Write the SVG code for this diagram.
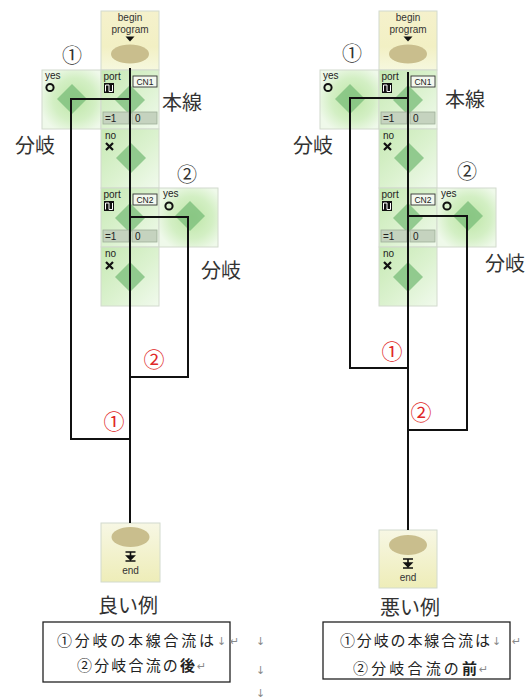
<svg xmlns="http://www.w3.org/2000/svg" width="528" height="699" viewBox="0 0 528 699">
<defs>
<linearGradient id="gCol" x1="0" y1="0" x2="1" y2="1">
<stop offset="0" stop-color="#c6e9b3"/>
<stop offset="0.55" stop-color="#dcf2d0"/>
<stop offset="1" stop-color="#f1faed"/>
</linearGradient>
<radialGradient id="gYes" cx="0.55" cy="0.5" r="0.6">
<stop offset="0" stop-color="#bde6a6"/>
<stop offset="0.6" stop-color="#d3efc4"/>
<stop offset="1" stop-color="#eff9ea"/>
</radialGradient>
<linearGradient id="gBegin" x1="0" y1="0" x2="0" y2="1">
<stop offset="0" stop-color="#f5f1cc"/>
<stop offset="0.6" stop-color="#f2f0c4"/>
<stop offset="1" stop-color="#f6f8de"/>
</linearGradient>
<linearGradient id="gEnd" x1="0" y1="0" x2="0" y2="1">
<stop offset="0" stop-color="#f7f7e4"/>
<stop offset="1" stop-color="#eeedb8"/>
</linearGradient>
<style>
.blk{stroke:#d2dacd;stroke-width:1}
.dia{fill:#78bc78;fill-opacity:.75}
.sm{font-family:"Liberation Sans",Arial,sans-serif;font-size:10px;fill:#222}
.bp{font-family:"Liberation Sans",Arial,sans-serif;font-size:10px;fill:#333}
.cn{font-family:"Liberation Sans",Arial,sans-serif;font-size:8.5px;fill:#222}
.lbl{font-family:"Noto Sans CJK JP",sans-serif;font-size:20px;fill:#333}
.num{font-family:"Noto Sans CJK JP",sans-serif;font-size:20px;fill:#333}
.red{font-family:"Noto Sans CJK JP",sans-serif;font-size:21px;fill:#e02828}
.box{font-family:"Noto Sans CJK JP",sans-serif;font-size:15px;fill:#222}
.mark{font-family:"DejaVu Sans",sans-serif;font-size:11px;fill:#8a8a8a}
.ln{fill:none;stroke:#111;stroke-width:2}
.valbox{fill:#c5d3bf;stroke:#9fae99;stroke-width:.8}
.cnbox{fill:#f3f8ef;stroke:#333;stroke-width:.9}
</style>
<g id="portIcon">
<rect x="0" y="0" width="10" height="10" fill="#111"/>
<path d="M1.5 8.5 V2 H5 V8.5 H8.5 V2" fill="none" stroke="#fff" stroke-width="1"/>
</g>
<g id="xMark">
<path d="M0 0 L7 7 M7 0 L0 7" stroke="#111" stroke-width="2.2"/>
</g>
<g id="endIcon">
<path d="M0 0 H10 M5 0 V4 M1.5 4 H8.5 L5 7.5 Z M0 9 H10" stroke="#111" stroke-width="1.6" fill="#111"/>
</g>
</defs>
<rect width="528" height="699" fill="#fff"/>

<!-- ===== LEFT diagram (good example) ===== -->
<g id="L-begin" transform="translate(101,11)">
<rect class="blk" width="58" height="59" fill="url(#gBegin)"/>
<text class="bp" x="29" y="10" text-anchor="middle">begin</text>
<text class="bp" x="29" y="21.5" text-anchor="middle">program</text>
<path d="M24.5 25.5 H33.5 L29 30.5 Z" fill="#111"/>
<ellipse cx="29" cy="43" rx="19" ry="9.5" fill="#c9be8d"/>
</g>
<g id="L-yes1" transform="translate(42,70)">
<rect class="blk" width="59" height="59" fill="url(#gYes)"/>
<path class="dia" d="M30 14 L45 29 L30 44 L15 29 Z"/>
<text class="sm" x="3" y="9" font-size="8.5">yes</text>
<circle cx="8" cy="17.5" r="3.6" fill="none" stroke="#111" stroke-width="2"/>
</g>
<g id="L-port1" transform="translate(101,70)">
<rect class="blk" width="58" height="59" fill="url(#gCol)"/>
<path class="dia" d="M29 15 L44 30 L29 45 L14 30 Z"/>
<text class="sm" x="2.5" y="10">port</text>
<use href="#portIcon" x="3" y="13"/>
<rect class="cnbox" x="32" y="6" width="24" height="11"/>
<text class="cn" x="44" y="15" text-anchor="middle">CN1</text>
<rect class="valbox" x="2" y="42" width="26" height="12"/>
<text class="sm" x="4" y="52">=1</text>
<rect class="valbox" x="31" y="42" width="25" height="12"/>
<text class="sm" x="34" y="52">0</text>
</g>
<g id="L-no1" transform="translate(101,129)">
<rect class="blk" width="58" height="59" fill="url(#gCol)"/>
<path class="dia" d="M30 14 L45 29 L30 44 L15 29 Z"/>
<text class="sm" x="4" y="10">no</text>
<use href="#xMark" x="5" y="14"/>
</g>
<g id="L-port2" transform="translate(101,188)">
<rect class="blk" width="58" height="59" fill="url(#gCol)"/>
<path class="dia" d="M29 15 L44 30 L29 45 L14 30 Z"/>
<text class="sm" x="2.5" y="10">port</text>
<use href="#portIcon" x="3" y="13"/>
<rect class="cnbox" x="32" y="6" width="24" height="11"/>
<text class="cn" x="44" y="15" text-anchor="middle">CN2</text>
<rect class="valbox" x="2" y="42" width="26" height="12"/>
<text class="sm" x="4" y="52">=1</text>
<rect class="valbox" x="31" y="42" width="25" height="12"/>
<text class="sm" x="34" y="52">0</text>
</g>
<g id="L-yes2" transform="translate(159,188)">
<rect class="blk" width="59" height="59" fill="url(#gYes)"/>
<path class="dia" d="M31 13 L46 28 L31 43 L16 28 Z"/>
<text class="sm" x="4" y="9" font-size="8.5">yes</text>
<circle cx="10" cy="18" r="3.6" fill="none" stroke="#111" stroke-width="2"/>
</g>
<g id="L-no2" transform="translate(101,247)">
<rect class="blk" width="58" height="59" fill="url(#gCol)"/>
<path class="dia" d="M29 15 L44 30 L29 45 L14 30 Z"/>
<text class="sm" x="4" y="10">no</text>
<use href="#xMark" x="5" y="15"/>
</g>
<g id="L-end" transform="translate(101,523)">
<rect class="blk" width="59" height="59" fill="url(#gEnd)"/>
<ellipse cx="29.5" cy="14" rx="19" ry="10" fill="#c9be8d"/>
<use href="#endIcon" x="24.5" y="29"/>
<text class="bp" x="29.5" y="51" text-anchor="middle" font-size="11">end</text>
</g>

<g id="L-connectors">
<path class="ln" d="M130 68 V523"/>
<path class="ln" d="M130 99 H71 V439 H130"/>
<path class="ln" d="M130 217 H188 V377 H130"/>
</g>

<g id="L-labels">
<text class="num" x="72" y="63" text-anchor="middle">①</text>
<text class="num" x="187" y="182" text-anchor="middle">②</text>
<text class="lbl" x="162" y="110">本線</text>
<text class="lbl" x="15" y="153">分岐</text>
<text class="lbl" x="201" y="278">分岐</text>
<text class="red" x="154" y="367" text-anchor="middle">②</text>
<text class="red" x="114" y="429" text-anchor="middle">①</text>
<text class="lbl" x="128" y="613" text-anchor="middle">良い例</text>
</g>

<g id="L-note">
<rect x="43" y="622" width="187" height="60" fill="none" stroke="#222" stroke-width="1.3"/>
<text class="box" x="57" y="646" textLength="157" lengthAdjust="spacing">①分岐の本線合流は</text>
<text class="mark" x="217" y="645">↓</text>
<text class="mark" x="230" y="645">↵</text>
<text class="box" x="77" y="671" textLength="118" lengthAdjust="spacing">②分岐合流の<tspan font-weight="bold">後</tspan></text>
<text class="mark" x="197" y="670">↵</text>
<text class="mark" x="256" y="645">↓</text>
<text class="mark" x="256" y="674">↓</text>
<text class="mark" x="256" y="697">↓</text>
</g>

<!-- ===== RIGHT diagram (bad example) ===== -->
<g id="R-begin" transform="translate(379,11)">
<rect class="blk" width="58" height="59" fill="url(#gBegin)"/>
<text class="bp" x="29" y="10" text-anchor="middle">begin</text>
<text class="bp" x="29" y="21.5" text-anchor="middle">program</text>
<path d="M24.5 25.5 H33.5 L29 30.5 Z" fill="#111"/>
<ellipse cx="29" cy="43" rx="19" ry="9.5" fill="#c9be8d"/>
</g>
<g id="R-yes1" transform="translate(320,70)">
<rect class="blk" width="59" height="59" fill="url(#gYes)"/>
<path class="dia" d="M30 14 L45 29 L30 44 L15 29 Z"/>
<text class="sm" x="3" y="9" font-size="8.5">yes</text>
<circle cx="8" cy="17.5" r="3.6" fill="none" stroke="#111" stroke-width="2"/>
</g>
<g id="R-port1" transform="translate(379,70)">
<rect class="blk" width="58" height="59" fill="url(#gCol)"/>
<path class="dia" d="M29 15 L44 30 L29 45 L14 30 Z"/>
<text class="sm" x="2.5" y="10">port</text>
<use href="#portIcon" x="3" y="13"/>
<rect class="cnbox" x="32" y="6" width="24" height="11"/>
<text class="cn" x="44" y="15" text-anchor="middle">CN1</text>
<rect class="valbox" x="2" y="42" width="26" height="12"/>
<text class="sm" x="4" y="52">=1</text>
<rect class="valbox" x="31" y="42" width="25" height="12"/>
<text class="sm" x="34" y="52">0</text>
</g>
<g id="R-no1" transform="translate(379,129)">
<rect class="blk" width="58" height="59" fill="url(#gCol)"/>
<path class="dia" d="M30 14 L45 29 L30 44 L15 29 Z"/>
<text class="sm" x="4" y="10">no</text>
<use href="#xMark" x="5" y="14"/>
</g>
<g id="R-port2" transform="translate(379,188)">
<rect class="blk" width="58" height="59" fill="url(#gCol)"/>
<path class="dia" d="M29 15 L44 30 L29 45 L14 30 Z"/>
<text class="sm" x="2.5" y="10">port</text>
<use href="#portIcon" x="3" y="13"/>
<rect class="cnbox" x="32" y="6" width="24" height="11"/>
<text class="cn" x="44" y="15" text-anchor="middle">CN2</text>
<rect class="valbox" x="2" y="42" width="26" height="12"/>
<text class="sm" x="4" y="52">=1</text>
<rect class="valbox" x="31" y="42" width="25" height="12"/>
<text class="sm" x="34" y="52">0</text>
</g>
<g id="R-yes2" transform="translate(437,188)">
<rect class="blk" width="59" height="59" fill="url(#gYes)"/>
<path class="dia" d="M31 13 L46 28 L31 43 L16 28 Z"/>
<text class="sm" x="4" y="9" font-size="8.5">yes</text>
<circle cx="10" cy="18" r="3.6" fill="none" stroke="#111" stroke-width="2"/>
</g>
<g id="R-no2" transform="translate(379,247)">
<rect class="blk" width="58" height="59" fill="url(#gCol)"/>
<path class="dia" d="M29 15 L44 30 L29 45 L14 30 Z"/>
<text class="sm" x="4" y="10">no</text>
<use href="#xMark" x="5" y="15"/>
</g>
<g id="R-end" transform="translate(379,530)">
<rect class="blk" width="58" height="58" fill="url(#gEnd)"/>
<ellipse cx="29" cy="15" rx="19" ry="10" fill="#c9be8d"/>
<use href="#endIcon" x="24" y="29"/>
<text class="bp" x="29" y="51" text-anchor="middle" font-size="11">end</text>
</g>

<g id="R-connectors">
<path class="ln" d="M408 72 V530"/>
<path class="ln" d="M408 98 H350 V368 H408"/>
<path class="ln" d="M408 216 H467 V430 H408"/>
</g>

<g id="R-labels">
<text class="num" x="352" y="61" text-anchor="middle">①</text>
<text class="num" x="467" y="179" text-anchor="middle">②</text>
<text class="lbl" x="445" y="107">本線</text>
<text class="lbl" x="293" y="153">分岐</text>
<text class="lbl" x="485" y="271">分岐</text>
<text class="red" x="392" y="359" text-anchor="middle">①</text>
<text class="red" x="421" y="420" text-anchor="middle">②</text>
<text class="lbl" x="410" y="615" text-anchor="middle">悪い例</text>
</g>

<g id="R-note">
<rect x="323" y="622" width="187" height="57" fill="none" stroke="#222" stroke-width="1.3"/>
<text class="box" x="340" y="646" textLength="150" lengthAdjust="spacing">①分岐の本線合流は</text>
<text class="mark" x="492" y="645">↓</text>
<text class="mark" x="512" y="645">↵</text>
<text class="box" x="353" y="674" textLength="124" lengthAdjust="spacing">②分岐合流の<tspan font-weight="bold">前</tspan></text>
<text class="mark" x="479" y="673">↵</text>
</g>
</svg>
